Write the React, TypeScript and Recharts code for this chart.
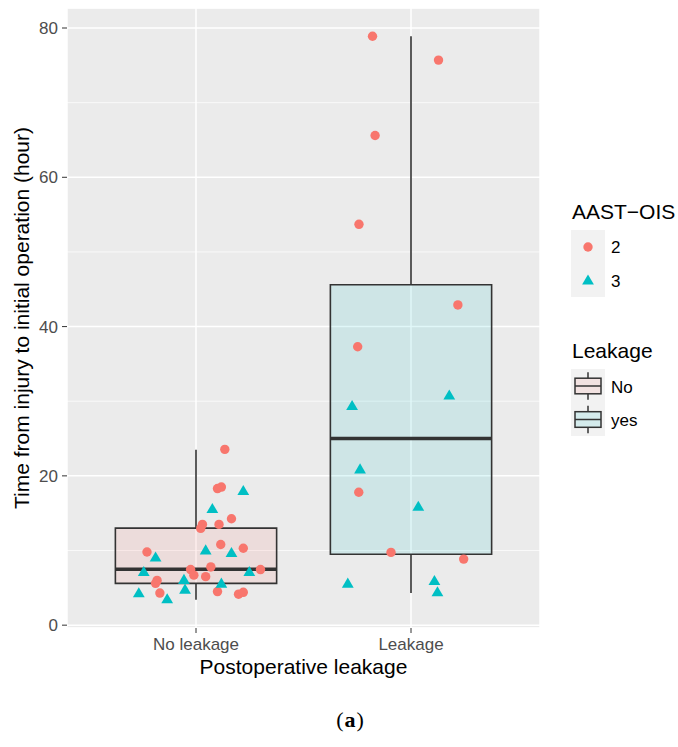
import React from "react";
import {
  ComposedChart,
  Scatter,
  XAxis,
  YAxis,
  CartesianGrid,
  ReferenceArea,
  ReferenceLine,
  Legend,
} from "recharts";

const categories = ["No leakage", "Leakage"];
const categoryPos = [1, 2];
const leakageLabels = ["No", "yes"];
const aastLabels = ["2", "3"];
const yTicks = [0, 20, 40, 60, 80];
const yMinorTicks = [10, 30, 50, 70];
const yDomain = [-0.38, 82.68];

// box stats per category
const whiskerLow = [3.4, 4.3];
const boxQ1 = [5.6, 9.5];
const boxMedian = [7.5, 25.0];
const boxQ3 = [13.0, 45.6];
const whiskerHigh = [23.5, 78.9];

// jittered points: offset from category centre + hours
const noLeakGrade2Jitter = [0.134, 0.1, 0.118, 0.165, 0.03, 0.022, 0.107, 0.115, 0.22, -0.228, -0.025, -0.01, 0.069, 0.045, 0.3, -0.181, -0.188, -0.168, 0.1, 0.198, 0.22];
const noLeakGrade2Hours = [23.55, 18.3, 18.5, 14.25, 13.5, 12.96, 13.5, 10.8, 10.3, 9.8, 7.45, 6.7, 7.8, 6.5, 7.45, 6.0, 5.6, 4.3, 4.5, 4.15, 4.4];
const noLeakGrade3Jitter = [0.22, 0.076, 0.045, 0.165, -0.188, -0.243, 0.248, -0.056, -0.051, 0.118, -0.266, -0.134];
const noLeakGrade3Hours = [18.0, 15.6, 10.05, 9.7, 9.1, 7.15, 7.15, 6.1, 4.8, 5.6, 4.3, 3.5];
const leakGrade2Jitter = [-0.179, 0.128, -0.167, -0.242, 0.218, -0.248, -0.243, -0.093, 0.245];
const leakGrade2Hours = [78.9, 75.7, 65.6, 53.7, 42.9, 37.3, 17.8, 9.75, 8.85];
const leakGrade3Jitter = [0.178, -0.274, -0.237, 0.034, -0.294, 0.109, 0.123];
const leakGrade3Hours = [30.8, 29.4, 20.9, 15.9, 5.6, 5.95, 4.45];

const RED = "#F8766D";
const TEAL = "#00BFC4";
const DARK = "#333333";
const FONT = "'Liberation Sans', Arial, sans-serif";

const makePoints = (cat: number, jitter: number[], hours: number[]) =>
  jitter.map((j, i) => ({ x: categoryPos[cat] + j, y: hours[i] }));

const grade2Points = [
  ...makePoints(0, noLeakGrade2Jitter, noLeakGrade2Hours),
  ...makePoints(1, leakGrade2Jitter, leakGrade2Hours),
];
const grade3Points = [
  ...makePoints(0, noLeakGrade3Jitter, noLeakGrade3Hours),
  ...makePoints(1, leakGrade3Jitter, leakGrade3Hours),
];

const boxFills = [RED, TEAL];

const CircleShape = (props: any) => <circle cx={props.cx} cy={props.cy} r={4.7} fill={RED} />;

const TriangleShape = (props: any) => {
  const { cx, cy } = props;
  return (
    <polygon
      points={`${cx},${cy - 5.8} ${cx - 5.9},${cy + 4.3} ${cx + 5.9},${cy + 4.3}`}
      fill={TEAL}
    />
  );
};

const BoxGlyph = ({ cx, cy, fill }: { cx: number; cy: number; fill: string }) => (
  <g>
    <line x1={cx} x2={cx} y1={cy - 13.7} y2={cy + 13.7} stroke={DARK} strokeWidth={1.5} />
    <rect x={cx - 13} y={cy - 7.8} width={26} height={15.6} fill="#F2F2F2" />
    <rect x={cx - 13} y={cy - 7.8} width={26} height={15.6} fill={fill} fillOpacity={0.12} stroke={DARK} strokeWidth={1.5} />
    <line x1={cx - 13} x2={cx + 13} y1={cy} y2={cy} stroke={DARK} strokeWidth={1.5} />
  </g>
);

// legend drawn relative to wrapper at (565, 190)
const renderLegend = () => (
  <svg width={113} height={260} style={{ overflow: "visible", fontFamily: FONT }}>
    <text x={7} y={28.5} fontSize={21} fill="#000">AAST−OIS</text>
    <rect x={6} y={40} width={34} height={67} fill="#F2F2F2" />
    <circle cx={23} cy={57} r={4.7} fill={RED} />
    <polygon points="23,84.5 17.1,94.6 28.9,94.6" fill={TEAL} />
    {aastLabels.map((l, i) => (
      <text key={l} x={46} y={63 + i * 33.5} fontSize={17} fill="#000">{l}</text>
    ))}
    <text x={7} y={168} fontSize={21} fill="#000">Leakage</text>
    <rect x={6} y={179} width={34} height={67} fill="#F2F2F2" />
    {leakageLabels.map((l, i) => (
      <g key={l}>
        <BoxGlyph cx={23} cy={196 + i * 33.5} fill={boxFills[i]} />
        <text x={46} y={202.5 + i * 33.5} fontSize={17} fill="#000">{l}</text>
      </g>
    ))}
  </svg>
);

export default function App() {
  return (
    <div style={{ position: "absolute", left: 0, top: 0, width: 678, height: 747, background: "#fff", fontFamily: FONT }}>
      <ComposedChart width={678} height={747} margin={{ top: 8, right: 138, bottom: 73, left: 0 }}>
        <CartesianGrid fill="#EBEBEB" stroke="#fff" strokeWidth={1.5} />
        <CartesianGrid yAxisId="minor" vertical={false} stroke="#fff" strokeWidth={0.7} />
        <XAxis
          type="number"
          dataKey="x"
          domain={[0.4, 2.6]}
          ticks={categoryPos}
          tickFormatter={(v: number) => categories[categoryPos.indexOf(v)] ?? ""}
          allowDataOverflow
          height={46}
          axisLine={false}
          tickLine={{ stroke: DARK }}
          tickSize={5}
          tickMargin={5}
          tick={{ fill: "#4D4D4D", fontSize: 17 }}
          label={{ value: "Postoperative leakage", position: "insideBottom", offset: 0, fill: "#000", fontSize: 21 }}
        />
        <YAxis
          type="number"
          dataKey="y"
          domain={yDomain}
          ticks={yTicks}
          allowDataOverflow
          width={67}
          axisLine={false}
          tickLine={{ stroke: DARK }}
          tickSize={5}
          tickMargin={4}
          tick={{ fill: "#4D4D4D", fontSize: 17 }}
          label={{
            value: "Time from injury to initial operation (hour)",
            angle: -90,
            position: "insideLeft",
            offset: 22,
            fill: "#000",
            fontSize: 21,
            style: { textAnchor: "middle" },
          }}
        />
        <YAxis yAxisId="minor" hide type="number" domain={yDomain} ticks={yMinorTicks} allowDataOverflow />
        {categories.map((c, i) => (
          <ReferenceLine
            key={`wl-${c}`}
            segment={[{ x: categoryPos[i], y: whiskerLow[i] }, { x: categoryPos[i], y: boxQ1[i] }]}
            stroke={DARK}
            strokeWidth={1.6}
          />
        ))}
        {categories.map((c, i) => (
          <ReferenceLine
            key={`wh-${c}`}
            segment={[{ x: categoryPos[i], y: boxQ3[i] }, { x: categoryPos[i], y: whiskerHigh[i] }]}
            stroke={DARK}
            strokeWidth={1.6}
          />
        ))}
        {categories.map((c, i) => (
          <ReferenceArea
            key={`box-${c}`}
            x1={categoryPos[i] - 0.375}
            x2={categoryPos[i] + 0.375}
            y1={boxQ1[i]}
            y2={boxQ3[i]}
            fill={boxFills[i]}
            fillOpacity={0.12}
            stroke={DARK}
            strokeWidth={1.6}
          />
        ))}
        {categories.map((c, i) => (
          <ReferenceLine
            key={`med-${c}`}
            segment={[
              { x: categoryPos[i] - 0.375, y: boxMedian[i] },
              { x: categoryPos[i] + 0.375, y: boxMedian[i] },
            ]}
            stroke={DARK}
            strokeWidth={3.4}
          />
        ))}
        <Scatter name="2" data={grade2Points} shape={CircleShape} isAnimationActive={false} />
        <Scatter name="3" data={grade3Points} shape={TriangleShape} isAnimationActive={false} />
        <Legend
          layout="horizontal"
          verticalAlign="middle"
          align="center"
          content={renderLegend}
          wrapperStyle={{ left: 565, top: 190, width: 113, height: 260 }}
        />
      </ComposedChart>
      <div
        style={{
          position: "absolute",
          left: 300,
          width: 101,
          top: 707,
          textAlign: "center",
          fontFamily: "'Liberation Serif', 'DejaVu Serif', serif",
          fontSize: 22,
          letterSpacing: 1,
          color: "#000",
        }}
      >
        (<b>a</b>)
      </div>
    </div>
  );
}
